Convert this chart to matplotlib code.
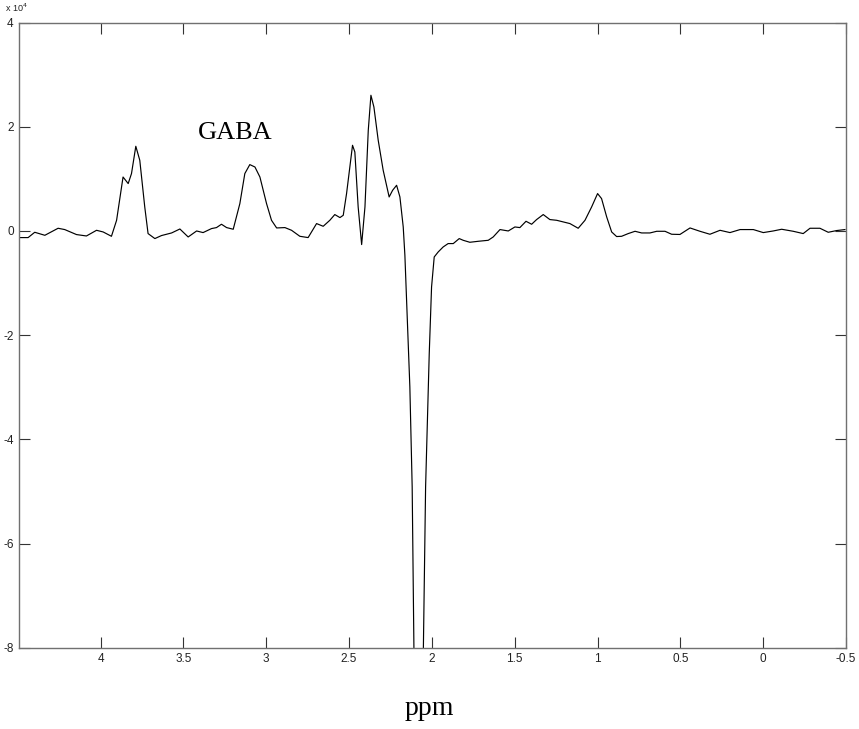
import numpy as np
import matplotlib
matplotlib.use("Agg")
import matplotlib.pyplot as plt

# difference-edited spectrum, chemical shift (ppm) and amplitude (x 1e4)
ppm = [4.491, 4.437, 4.397, 4.336, 4.256, 4.216, 4.145, 4.085, 4.024, 3.984,
       3.934, 3.903, 3.864, 3.833, 3.813, 3.787, 3.763, 3.733, 3.713, 3.672,
       3.632, 3.571, 3.521, 3.471, 3.420, 3.381, 3.330, 3.300, 3.270, 3.239,
       3.199, 3.159, 3.129, 3.099, 3.068, 3.038, 2.998, 2.968, 2.937, 2.887,
       2.847, 2.797, 2.747, 2.696, 2.656, 2.616, 2.586, 2.555, 2.535, 2.515,
       2.479, 2.465, 2.445, 2.424, 2.404, 2.384, 2.368, 2.350, 2.324, 2.294,
       2.258, 2.237, 2.213, 2.193, 2.173, 2.163, 2.133, 2.119, 2.100, 2.080,
       2.060, 2.038, 2.016, 2.002, 1.986, 1.962, 1.932, 1.902, 1.871, 1.835,
       1.811, 1.771, 1.720, 1.660, 1.630, 1.589, 1.539, 1.499, 1.469, 1.432,
       1.398, 1.368, 1.328, 1.288, 1.247, 1.207, 1.167, 1.117, 1.076, 1.036,
       1.000, 0.976, 0.945, 0.915, 0.885, 0.855, 0.815, 0.774, 0.734, 0.684,
       0.643, 0.593, 0.553, 0.503, 0.442, 0.382, 0.322, 0.261, 0.201, 0.140,
       0.060, 0.000, -0.060, -0.111, -0.181, -0.241, -0.282, -0.342, -0.392,
       -0.443, -0.493]
amp = [-0.127, -0.127, -0.025, -0.083, 0.052, 0.027, -0.069, -0.096, 0.013, -0.019,
       -0.102, 0.205, 1.036, 0.910, 1.102, 1.626, 1.357, 0.461, -0.050, -0.146,
       -0.088, -0.038, 0.038, -0.115, 0.000, -0.031, 0.046, 0.065, 0.129, 0.065,
       0.033, 0.526, 1.102, 1.274, 1.228, 1.036, 0.526, 0.205, 0.058, 0.065,
       0.013, -0.102, -0.127, 0.142, 0.090, 0.205, 0.315, 0.257, 0.301, 0.718,
       1.645, 1.516, 0.461, -0.261, 0.461, 1.933, 2.605, 2.380, 1.741, 1.165,
       0.653, 0.781, 0.877, 0.653, 0.077, -0.466, -2.994, -4.914, -10.5, -12.0,
       -10.0, -4.914, -2.353, -1.075, -0.499, -0.403, -0.307, -0.242, -0.242, -0.146,
       -0.179, -0.217, -0.198, -0.179, -0.115, 0.027, 0.000, 0.077, 0.065, 0.186,
       0.129, 0.219, 0.315, 0.219, 0.205, 0.173, 0.142, 0.052, 0.205, 0.461,
       0.718, 0.622, 0.269, -0.019, -0.107, -0.102, -0.050, -0.006, -0.038, -0.038,
       -0.006, -0.006, -0.063, -0.067, 0.058, -0.006, -0.063, 0.013, -0.031, 0.027,
       0.027, -0.031, 0.000, 0.033, -0.006, -0.050, 0.052, 0.052, -0.025,
       0.008, 0.027]

xticks = [4, 3.5, 3, 2.5, 2, 1.5, 1, 0.5, 0, -0.5]
xticklabels = ['4', '3.5', '3', '2.5', '2', '1.5', '1', '0.5', '0', '-0.5']
yticks = [-8, -6, -4, -2, 0, 2, 4]

fig = plt.figure(figsize=(8.59, 7.29), dpi=100, facecolor='w')
ax = fig.add_axes([0.0225, 0.1115, 0.9625, 0.8575])

ax.plot(ppm, amp, color='k', linewidth=0.85)
ax.set_xlim(4.49, -0.5)
ax.set_ylim(-8, 4)

ax.set_xticks(xticks)
ax.set_xticklabels(xticklabels, fontfamily='Liberation Sans', fontsize=8.5)
ax.set_yticks(yticks)
ax.set_yticklabels([str(v) for v in yticks], fontfamily='Liberation Sans', fontsize=8.5)
ax.tick_params(direction='in', length=8, width=0.8, color='#333333',
               top=True, right=True, pad=4, labelcolor='#222222')
for s in ax.spines.values():
    s.set_color('#707070')
    s.set_linewidth(1.0)

# exponent label above the y axis
ax.text(-0.017, 1.013, r'x 10$^{4}$', transform=ax.transAxes, fontsize=6.5,
        fontfamily='Liberation Sans', ha='left', va='bottom', color='#222222')

ax.text(3.19, 1.875, 'GABA', fontfamily='Liberation Serif', fontsize=19,
        ha='center', va='center')
fig.text(0.5, 0.028, 'ppm', fontfamily='Liberation Serif', fontsize=20,
         ha='center', va='center')

plt.savefig('out.png', dpi=100)
